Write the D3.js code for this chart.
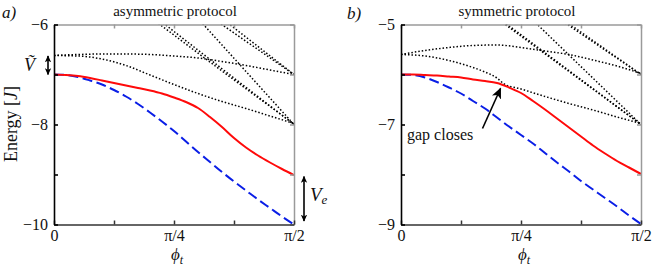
<!DOCTYPE html>
<html><head><meta charset="utf-8">
<script src="https://cdn.jsdelivr.net/npm/d3@7"></script>
<style>
body{margin:0;background:#fff}
svg{display:block}
svg text{font-family:"Liberation Serif","Times New Roman","DejaVu Serif",serif !important;fill:#111}
</style>
</head><body>
<svg id="c" width="665" height="274" font-family="Liberation Serif, Times New Roman, DejaVu Serif, serif"></svg>
<script>
// φ_t expressed in units of π/2
const phiFrac = [0,0.05,0.1,0.15,0.2,0.25,0.3,0.35,0.4,0.45,0.5,0.55,0.6,0.65,0.7,0.75,0.8,0.85,0.9,0.95,1.0];
const xTickVals = [0, 0.5, 1];
const xTickLabels = ["0", "π/4", "π/2"];
const xMinorTicks = [0.25, 0.75];

// panel a) asymmetric protocol
const redA  = [-7.00,-7.01,-7.03,-7.07,-7.12,-7.17,-7.22,-7.27,-7.32,-7.38,-7.46,-7.55,-7.67,-7.85,-8.05,-8.27,-8.46,-8.62,-8.76,-8.89,-9.01];
const blueA = [-7.00,-7.01,-7.05,-7.12,-7.20,-7.31,-7.44,-7.59,-7.76,-7.94,-8.13,-8.34,-8.55,-8.75,-8.95,-9.14,-9.32,-9.50,-9.67,-9.84,-10.0];
const levelsA = [
  [[0,-6.62],[0.1,-6.60],[0.2,-6.59],[0.3,-6.59],[0.4,-6.60],[0.5,-6.63],[0.6,-6.67],[0.7,-6.74],[0.8,-6.82],[0.9,-6.91],[1,-7.0]],
  [[0,-6.62],[0.1,-6.63],[0.2,-6.69],[0.3,-6.82],[0.4,-7.01],[0.5,-7.20],[0.6,-7.38],[0.7,-7.54],[0.8,-7.68],[0.9,-7.83],[1,-7.98]],
  [[0.40,-5.85],[0.70,-6.93],[1,-7.99]],
  [[0.42,-5.84],[0.72,-6.96],[1,-8.0]],
  [[0.60,-5.88],[0.80,-6.94],[1,-8.0]],
  [[0.66,-5.87],[1,-7.0]],
  [[0.70,-5.88],[1,-7.0]]
];
const yMajorA = [-6, -8, -10];
const yLabelsA = ["−6", "−8", "−10"];
const yMinorA = [-7, -9];

// panel b) symmetric protocol
const redB  = [-6.00,-6.00,-6.01,-6.02,-6.04,-6.06,-6.10,-6.13,-6.17,-6.26,-6.37,-6.53,-6.70,-6.88,-7.06,-7.24,-7.42,-7.58,-7.73,-7.86,-7.99];
const blueB = [-6.00,-6.01,-6.06,-6.15,-6.26,-6.38,-6.53,-6.68,-6.86,-7.04,-7.21,-7.38,-7.57,-7.76,-7.94,-8.13,-8.30,-8.47,-8.64,-8.82,-8.99];
const levelsB = [
  [[0,-5.60],[0.1,-5.52],[0.2,-5.46],[0.3,-5.42],[0.4,-5.41],[0.5,-5.46],[0.6,-5.53],[0.7,-5.60],[0.8,-5.71],[0.9,-5.83],[1,-5.98]],
  [[0,-5.60],[0.1,-5.63],[0.2,-5.72],[0.3,-5.86],[0.35,-5.95],[0.4,-6.07],[0.43,-6.19],[0.5,-6.29],[0.6,-6.44],[0.7,-6.58],[0.8,-6.71],[0.9,-6.85],[1,-6.98]],
  [[0.40,-4.88],[1,-7.0]],
  [[0.415,-4.90],[1,-7.0]],
  [[0.54,-4.87],[1,-7.0]],
  [[0.66,-4.89],[1,-6.0]],
  [[0.675,-4.90],[1,-6.0]]
];
const yMajorB = [-5, -7, -9];
const yLabelsB = ["−5", "−7", "−9"];
const yMinorB = [-6, -8];

const FONT = "Liberation Serif, Times New Roman, DejaVu Serif, serif";
const svg = d3.select("#c");
const defs = svg.append("defs");
defs.append("marker").attr("id","ah").attr("viewBox","0 0 10 10")
  .attr("refX",9).attr("refY",5).attr("markerWidth",7).attr("markerHeight",7)
  .attr("markerUnits","userSpaceOnUse").attr("orient","auto-start-reverse")
  .append("path").attr("d","M0,0.5 L10,5 L0,9.5 L2.5,5 Z").attr("fill","#000");
defs.append("marker").attr("id","ah2").attr("viewBox","0 0 10 10")
  .attr("refX",9).attr("refY",5).attr("markerWidth",11).attr("markerHeight",11)
  .attr("markerUnits","userSpaceOnUse").attr("orient","auto")
  .append("path").attr("d","M0,0.5 L10,5 L0,9.5 L2.5,5 Z").attr("fill","#000");

const panels = [
  {id:"a", left:54, right:294, top:24.5, bottom:224.5, yDom:[-10,-6], red:redA, blue:blueA, levels:levelsA,
   yMajor:yMajorA, yLabels:yLabelsA, yMinor:yMinorA, title:"asymmetric protocol", titleX:175, tag:"a)", tagX:2, tagY:18},
  {id:"b", left:401, right:641, top:24.5, bottom:224.5, yDom:[-9,-5], red:redB, blue:blueB, levels:levelsB,
   yMajor:yMajorB, yLabels:yLabelsB, yMinor:yMinorB, title:"symmetric protocol", titleX:517, tag:"b)", tagX:347, tagY:19}
];

panels.forEach(p => {
  const x = d3.scaleLinear().domain([0,1]).range([p.left,p.right]);
  const y = d3.scaleLinear().domain(p.yDom).range([p.bottom,p.top]);
  const g = svg.append("g");
  defs.append("clipPath").attr("id","clip"+p.id).append("rect")
    .attr("x",p.left).attr("y",p.top).attr("width",p.right-p.left).attr("height",p.bottom-p.top);
  const plot = g.append("g").attr("clip-path",`url(#clip${p.id})`);
  const line = d3.line().x(d=>x(d[0])).y(d=>y(d[1])).curve(d3.curveMonotoneX);

  p.levels.forEach(l => {
    plot.append("path").attr("d",line(l)).attr("fill","none").attr("stroke","#000")
      .attr("stroke-width",1.5).attr("stroke-dasharray","1.5,2");
  });
  plot.append("path").attr("d",line(phiFrac.map((f,i)=>[f,p.blue[i]])))
    .attr("fill","none").attr("stroke","#0a1ee6").attr("stroke-width",2).attr("stroke-dasharray","10,4.5");
  plot.append("path").attr("d",line(phiFrac.map((f,i)=>[f,p.red[i]])))
    .attr("fill","none").attr("stroke","#ff0a0a").attr("stroke-width",2);

  const tk = 4;
  const allY = p.yMajor.concat(p.yMinor);
  const allX = xTickVals.concat(xMinorTicks);
  const top = g.append("g").attr("transform",`translate(0,${p.top})`)
    .call(d3.axisTop(x).tickValues(allX).tickSizeInner(-tk).tickSizeOuter(0).tickFormat(""));
  const right = g.append("g").attr("transform",`translate(${p.right},0)`)
    .call(d3.axisRight(y).tickValues(allY).tickSizeInner(-tk).tickSizeOuter(0).tickFormat(""));
  [top,right].forEach(a => { a.selectAll("path,line").attr("stroke","#9a9a9a").attr("stroke-width",1.5); });

  const bottom = g.append("g").attr("transform",`translate(0,${p.bottom})`)
    .call(d3.axisBottom(x).tickValues(allX).tickSizeInner(-tk).tickSizeOuter(0)
      .tickFormat(d => { const i = xTickVals.indexOf(d); return i>=0 ? xTickLabels[i] : ""; }));
  bottom.attr("font-family",FONT);
  bottom.selectAll("path,line").attr("stroke","#333").attr("stroke-width",1.5);
  bottom.selectAll("text").attr("y",16).attr("dy",0).attr("font-size",16)
    .attr("font-family",FONT).attr("fill","#111");

  const left = g.append("g").attr("transform",`translate(${p.left},0)`)
    .call(d3.axisLeft(y).tickValues(allY).tickSizeInner(-tk).tickSizeOuter(0)
      .tickFormat(d => { const i = p.yMajor.indexOf(d); return i>=0 ? p.yLabels[i] : ""; }));
  left.attr("font-family",FONT);
  left.selectAll("path,line").attr("stroke","#000").attr("stroke-width",1.6);
  left.selectAll("text").attr("x",-6).attr("dy","0.33em").attr("font-size",16)
    .attr("font-family",FONT).attr("fill","#111");

  svg.append("text").attr("x",p.titleX).attr("y",16).attr("text-anchor","middle")
    .attr("font-family",FONT).attr("font-size",15).text(p.title);
  svg.append("text").attr("x",p.tagX).attr("y",p.tagY).attr("font-size",17)
    .attr("font-family",FONT).attr("font-style","italic").text(p.tag);

  const xl = svg.append("text").attr("x",(p.left+p.right)/2+3).attr("y",260)
    .attr("font-family",FONT).attr("text-anchor","middle").attr("font-size",17);
  xl.append("tspan").attr("font-style","italic").text("ϕ");
  xl.append("tspan").attr("font-style","italic").attr("font-size",12).attr("dy",4).text("t");
});

// y-axis title
const yt = svg.append("text").attr("transform","translate(17,124) rotate(-90)")
  .attr("font-family",FONT).attr("text-anchor","middle").attr("font-size",18);
yt.append("tspan").text("Energy [");
yt.append("tspan").attr("font-style","italic").text("J");
yt.append("tspan").text("]");

// Ṽ annotation
svg.append("text").attr("x",24).attr("y",71).attr("font-family",FONT).attr("font-size",18)
  .attr("font-style","italic").text("Ṽ");
svg.append("path").attr("d","M48,56 L48,74.5").attr("stroke","#000").attr("stroke-width",1.6)
  .attr("marker-start","url(#ah)").attr("marker-end","url(#ah)");

// V_e annotation
svg.append("path").attr("d","M304,176.5 L304,221").attr("stroke","#000").attr("stroke-width",1.6)
  .attr("marker-start","url(#ah)").attr("marker-end","url(#ah)");
const ve = svg.append("text").attr("x",310).attr("y",201).attr("font-family",FONT)
  .attr("font-size",19).attr("font-style","italic");
ve.append("tspan").text("V");
ve.append("tspan").attr("font-size",13).attr("dy",3).text("e");

// gap closes
svg.append("text").attr("x",407).attr("y",140).attr("font-family",FONT).attr("font-size",16).text("gap closes");
svg.append("path").attr("d","M482.5,128.5 L500.5,88.5").attr("stroke","#000").attr("stroke-width",1.6)
  .attr("marker-end","url(#ah2)");
</script>
</body></html>
